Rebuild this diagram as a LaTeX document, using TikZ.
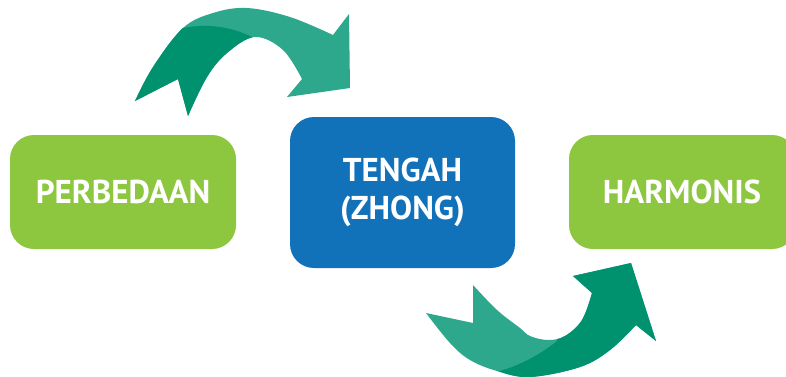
\documentclass[tikz,border=0pt]{standalone}
\usepackage{fontspec}
\setmainfont{PT Sans}
\definecolor{boxgreen}{RGB}{141,198,63}
\definecolor{boxblue}{RGB}{17,114,186}
\definecolor{arrdark}{RGB}{0,146,110}
\definecolor{arrlight}{RGB}{46,168,140}
\begin{document}
\begin{tikzpicture}[x=1pt,y=-1pt,
  greenbox/.style={fill=boxgreen, rounded corners=24pt},
  bluebox/.style={fill=boxblue, rounded corners=24pt},
  boxtext/.style={text=white, font=\bfseries\fontsize{33}{38}\selectfont, align=center, inner sep=0pt}]
\useasboundingbox (0,0) rectangle (786,376);
\fill[white] (0,0) rectangle (786,376);

% boxes
\fill[greenbox] (10,135) rectangle (236,249);
\fill[bluebox] (290,117) rectangle (515,268);
\fill[greenbox] (569,135) rectangle (796,249);
\node[boxtext] (perbedaan) at (123,192) {PERBEDAAN};
\node[boxtext] (tengah) at (402.5,192) {TENGAH\\(ZHONG)};
\node[boxtext] (harmonis) at (682,192) {HARMONIS};

% top arrow
\begin{scope}
\path[fill=arrlight, save path=\toparrow]
  plot[smooth, tension=0.6] coordinates {(135,101) (153,67) (183,28) (213,13) (247,8) (290,17) (333,35)}
  -- (349,14) -- (350,88) -- (287,97) --
  plot[smooth, tension=0.6] coordinates {(302,79) (283,50) (255,37) (227,53) (207,77) (188,116)}
  -- (178,79) -- cycle;
\clip[use path=\toparrow];
\fill[arrdark] (183,28) .. controls (208,23) and (232,27) .. (252,37) -- (262,130) -- (100,130) -- (100,0) -- (183,0) -- cycle;
\end{scope}

% bottom arrow
\begin{scope}
\path[fill=arrlight, save path=\botarrow]
  plot[smooth, tension=0.6] coordinates {(426,313) (450,343) (470,360) (497,371) (530,377) (580,367) (610,350) (636,325)}
  -- (656,341) -- (631,263) -- (573,276) --
  plot[smooth, tension=0.6] coordinates {(592,293) (582,320) (565,336) (548,340) (530,336) (520,328) (497,310) (473,285)}
  -- (473,323) -- cycle;
\clip[use path=\botarrow];
\fill[arrdark] (495,372) .. controls (515,368) and (540,355) .. (557,341) -- (560,250) -- (700,250) -- (700,400) -- (495,400) -- cycle;
\end{scope}
\end{tikzpicture}
\end{document}
